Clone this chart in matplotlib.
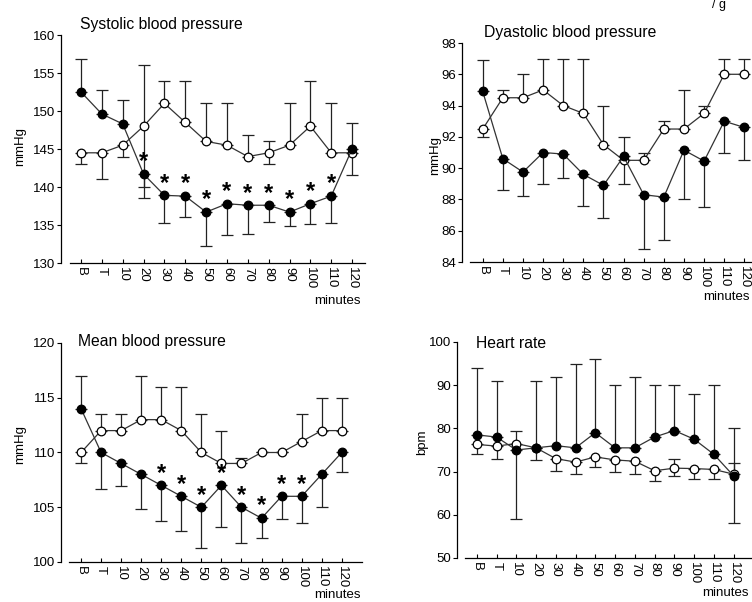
import numpy as np
import matplotlib
matplotlib.use("Agg")
import matplotlib.pyplot as plt

plt.rcParams["font.family"] = ["Liberation Sans", "DejaVu Sans"]

W, H = 752, 602
nan = np.nan

# x categories (shared by all panels)
labels = ["B", "T", "10", "20", "30", "40", "50", "60", "70", "80", "90", "100", "110", "120"]

# --- Systolic blood pressure (mmHg) ---
sys_filled = [152.5, 149.6, 148.3, 141.7, 138.9, 138.8, 136.7, 137.8, 137.6, 137.6, 136.7, 137.8, 138.8, 145.0]
sys_filled_hi = [156.8, 152.8, 151.4, nan, nan, nan, nan, nan, nan, nan, nan, nan, nan, 148.4]
sys_filled_lo = [nan, nan, nan, 138.5, 135.3, 136.1, 132.3, 133.7, 133.8, 135.4, 134.9, 135.1, 135.3, nan]
sys_open = [144.5, 144.5, 145.5, 148.0, 151.0, 148.5, 146.0, 145.5, 144.0, 144.5, 145.5, 148.0, 144.5, 144.5]
sys_open_hi = [nan, nan, nan, 156.0, 154.0, 154.0, 151.0, 151.0, 146.9, 146.1, 151.0, 154.0, 151.0, nan]
sys_open_lo = [143.0, 141.0, 144.0, 140.0, nan, nan, nan, nan, nan, 143.0, nan, nan, nan, 141.6]
sys_stars = [3, 4, 5, 6, 7, 8, 9, 10, 11, 12]

# --- Dyastolic blood pressure (mmHg) ---
dia_filled = [94.9, 90.6, 89.75, 91.0, 90.9, 89.6, 88.9, 90.75, 88.3, 88.15, 91.15, 90.45, 93.0, 92.6]
dia_filled_hi = [96.9, nan, nan, nan, nan, nan, nan, 92.0, nan, nan, nan, nan, nan, nan]
dia_filled_lo = [nan, 88.6, 88.2, 89.0, 89.4, 87.6, 86.8, nan, 84.8, 85.4, 88.0, 87.5, 91.0, 90.55]
dia_open = [92.5, 94.5, 94.5, 95.0, 94.0, 93.5, 91.5, 90.5, 90.5, 92.5, 92.5, 93.5, 96.0, 96.0]
dia_open_hi = [nan, 95.0, 96.0, 97.0, 97.0, 97.0, 94.0, nan, 91.0, 93.0, 95.0, 94.0, 97.0, 97.0]
dia_open_lo = [92.0, nan, nan, nan, nan, nan, nan, 89.0, nan, nan, nan, nan, nan, nan]

# --- Mean blood pressure (mmHg) ---
map_filled = [114, 110, 109, 108, 107, 106, 105, 107, 105, 104, 106, 106, 108, 110]
map_filled_hi = [117, nan, nan, nan, nan, nan, nan, nan, nan, nan, nan, nan, nan, nan]
map_filled_lo = [nan, 106.7, 106.9, 104.8, 103.7, 102.8, 101.3, 103.2, 101.7, 102.2, 103.9, 103.6, 105.0, 108.2]
map_open = [110, 112, 112, 113, 113, 112, 110, 109, 109, 110, 110, 111, 112, 112]
map_open_hi = [nan, 113.5, 113.5, 117, 116, 116, 113.5, 112, 109.5, nan, nan, 113.5, 115, 115]
map_open_lo = [109, nan, nan, nan, nan, nan, nan, nan, nan, nan, nan, nan, nan, nan]
map_stars = [4, 5, 6, 7, 8, 9, 10, 11]

# --- Heart rate (bpm) ---
hr_filled = [78.5, 78.0, 75.0, 75.5, 76.0, 75.5, 79.0, 75.5, 75.5, 78.0, 79.5, 77.5, 74.0, 69.0]
hr_filled_hi = [94, 91, nan, 91, 92, 95, 96, 90, 92, 90, 90, 88, 90, 72]
hr_filled_lo = [nan, nan, 59, nan, nan, nan, nan, nan, nan, nan, nan, nan, nan, 58]
hr_open = [76.3, 75.9, 76.5, 75.5, 73.0, 72.2, 73.4, 72.7, 72.4, 70.2, 70.8, 70.7, 70.5, 69.4]
hr_open_hi = [nan, nan, 79.3, nan, nan, nan, nan, nan, nan, nan, 73.0, nan, nan, 80.0]
hr_open_lo = [74.0, 73.0, nan, 72.8, 70.2, 69.5, 71.0, 70.0, 69.5, 67.8, 69.0, 68.4, 68.2, nan]

fig = plt.figure(figsize=(W / 100, H / 100), dpi=100)


def px_axes(left, top, right, bottom):
    return fig.add_axes([left / W, 1 - bottom / H, (right - left) / W, (bottom - top) / H])


def px_text(x, y, s, **kw):
    fig.text(x / W, 1 - y / H, s, **kw)


def draw_err(ax, x, mean, lo, hi):
    mean = np.asarray(mean, float)
    lo = np.asarray(lo, float)
    hi = np.asarray(hi, float)
    down = np.where(np.isnan(lo), 0, mean - lo)
    up = np.where(np.isnan(hi), 0, hi - mean)
    ax.errorbar(x, mean, yerr=[down, up], fmt="none", ecolor="#222222",
                elinewidth=0.9, capsize=4.5, capthick=0.9, zorder=2)


def panel(rect, xlim, ylim, yticks, filled, f_lo, f_hi, opened, o_lo, o_hi, stars=()):
    ax = px_axes(*rect)
    x = np.arange(len(labels))
    draw_err(ax, x, filled, f_lo, f_hi)
    draw_err(ax, x, opened, o_lo, o_hi)
    ax.plot(x, opened, "-o", color="#333333", lw=0.9, ms=6.2,
            mfc="white", mec="black", mew=0.9, zorder=3)
    ax.plot(x, filled, "-o", color="#333333", lw=0.9, ms=6.2,
            mfc="black", mec="black", mew=0.9, zorder=4)
    # significance marks just above the filled points
    for i in stars:
        ax.annotate("*", (x[i], filled[i]), xytext=(0, 0.5), textcoords="offset points",
                    ha="center", va="bottom", fontsize=17, fontweight="bold", zorder=5)
    ax.set_xlim(*xlim)
    ax.set_ylim(*ylim)
    ax.set_yticks(yticks)
    ax.set_xticks(x)
    ax.set_xticklabels(labels, rotation=-90, fontsize=9.5)
    ax.tick_params(axis="y", direction="out", length=3, width=0.8, pad=1, labelsize=9.5)
    ax.tick_params(axis="x", direction="in", length=3, width=0.8, pad=3)
    for s in ("top", "right"):
        ax.spines[s].set_visible(False)
    ax.spines["left"].set_linewidth(0.9)
    ax.spines["bottom"].set_linewidth(0.9)
    ax.spines["bottom"].set_bounds(xlim[0] + 0.42, xlim[1])
    ax.patch.set_alpha(0)
    return ax


panel((61, 35, 365, 263), (-0.96, 13.62), (130, 160), np.arange(130, 161, 5),
      sys_filled, sys_filled_lo, sys_filled_hi, sys_open, sys_open_lo, sys_open_hi, sys_stars)
panel((462, 43, 752, 262), (-1.03, 13.38), (84, 98), np.arange(84, 99, 2),
      dia_filled, dia_filled_lo, dia_filled_hi, dia_open, dia_open_lo, dia_open_hi)
panel((61, 343, 362, 562), (-1.0, 14.01), (100, 120), np.arange(100, 121, 5),
      map_filled, map_filled_lo, map_filled_hi, map_open, map_open_lo, map_open_hi, map_stars)
panel((457, 342, 752, 558), (-1.0, 13.93), (50, 100), np.arange(50, 101, 10),
      hr_filled, hr_filled_lo, hr_filled_hi, hr_open, hr_open_lo, hr_open_hi)

# titles
px_text(80, 25, "Systolic blood pressure", fontsize=11.3, va="center", ha="left")
px_text(484, 32, "Dyastolic blood pressure", fontsize=11.3, va="center", ha="left")
px_text(78, 342, "Mean blood pressure", fontsize=11.3, va="center", ha="left")
px_text(476, 343, "Heart rate", fontsize=11.3, va="center", ha="left")

# y labels
px_text(20, 146, "mmHg", rotation=90, fontsize=9.5, va="center", ha="center")
px_text(435, 155, "mmHg", rotation=90, fontsize=9.5, va="center", ha="center")
px_text(20, 445, "mmHg", rotation=90, fontsize=9.5, va="center", ha="center")
px_text(422, 442, "bpm", rotation=90, fontsize=9.5, va="center", ha="center")

# x labels
px_text(337, 301, "minutes", fontsize=9.5, va="center", ha="center")
px_text(750, 297, "minutes", fontsize=9.5, va="center", ha="right")
px_text(337, 595, "minutes", fontsize=9.5, va="center", ha="center")
px_text(725, 593, "minutes", fontsize=9.5, va="center", ha="center")

# page fragment at the top edge
px_text(712, 5, "/ g", fontsize=9, va="center", ha="left")

fig.savefig("out.png", dpi=100)
